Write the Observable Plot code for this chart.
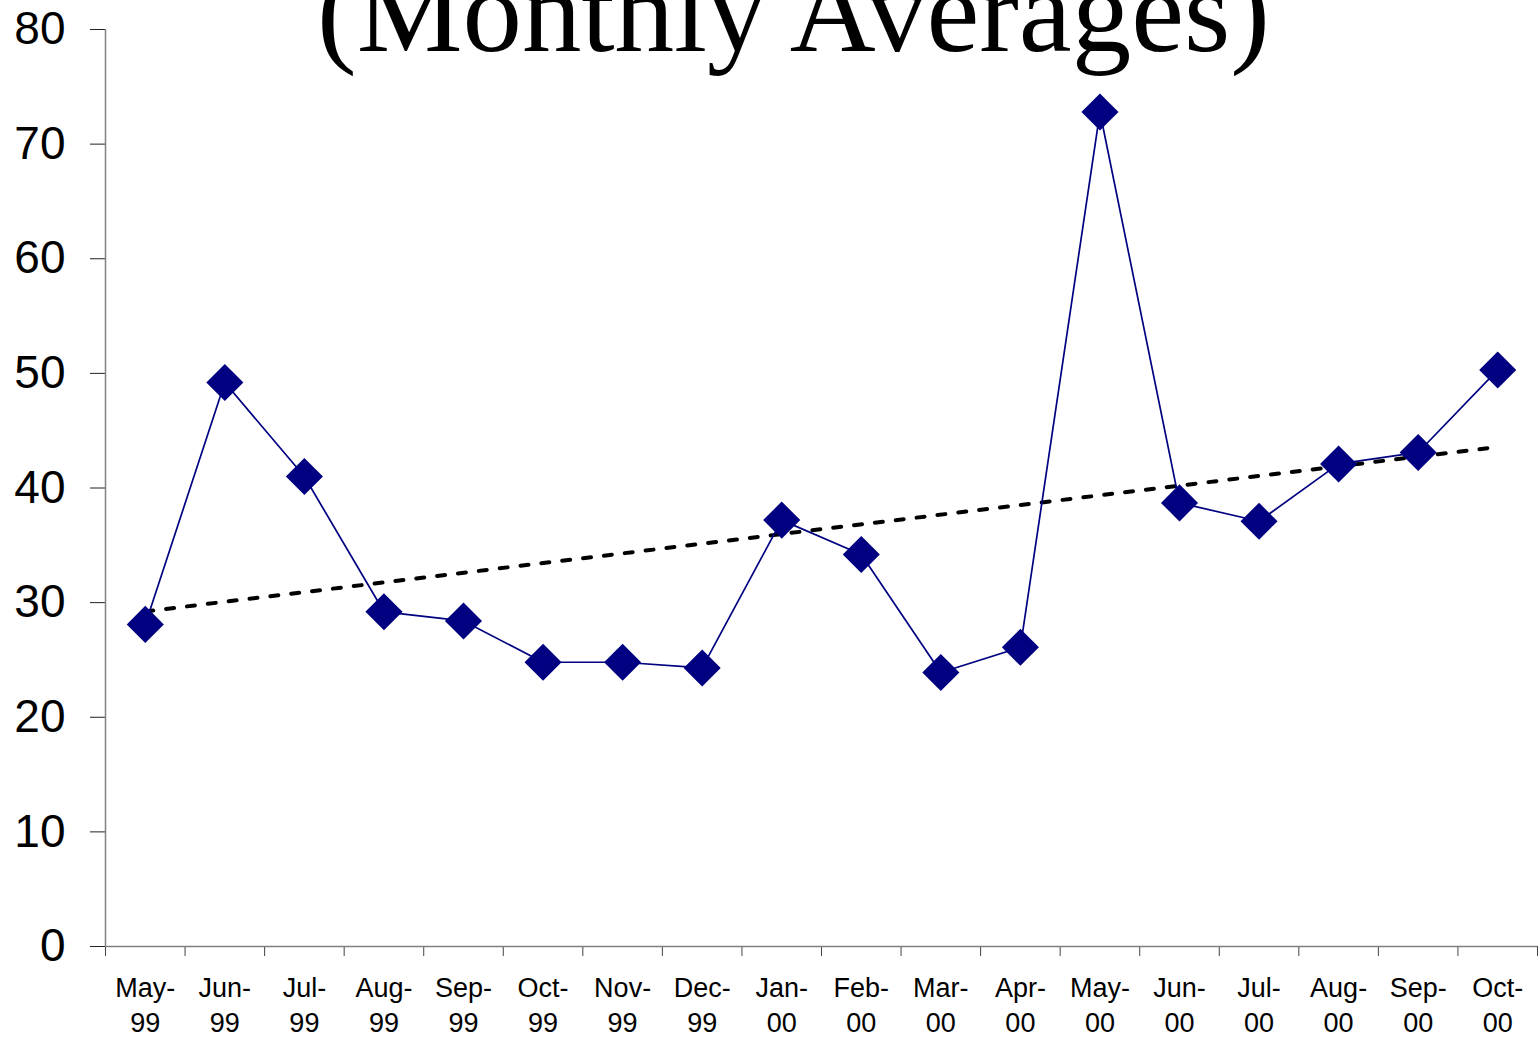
<!DOCTYPE html>
<html>
<head>
<meta charset="utf-8">
<script src="https://cdn.jsdelivr.net/npm/d3@7"></script>
<script src="https://cdn.jsdelivr.net/npm/@observablehq/plot@0.6"></script>
<style>
  html, body { margin: 0; padding: 0; background: #fff; overflow: hidden; }
  #wrap { position: relative; width: 1539px; height: 1038px; }
  #title {
    position: absolute; left: 0; width: 1587px; top: -48px;
    text-align: center; font-family: "Liberation Serif", "Times New Roman", serif;
    font-size: 119px; line-height: 119px; color: #000; white-space: nowrap;
    z-index: 2; pointer-events: none;
  }
</style>
</head>
<body>
<div id="wrap">
  <div id="title">(Monthly Averages)</div>
  <div id="chart"></div>
</div>
<script>
const months = ["May-\n99","Jun-\n99","Jul-\n99","Aug-\n99","Sep-\n99","Oct-\n99","Nov-\n99","Dec-\n99",
                "Jan-\n00","Feb-\n00","Mar-\n00","Apr-\n00","May-\n00","Jun-\n00","Jul-\n00","Aug-\n00","Sep-\n00","Oct-\n00"];
const values = [28.1, 49.2, 41.0, 29.2, 28.4, 24.8, 24.8, 24.3, 37.2, 34.2, 23.9, 26.1, 72.8, 38.7, 37.1, 42.1, 43.1, 50.3];
const yTicks = [0, 10, 20, 30, 40, 50, 60, 70, 80];

const data = months.map((m, i) => ({i, label: m, value: values[i]}));
const boundaries = d3.range(months.length + 1).map(i => i - 0.5);

const chart = Plot.plot({
  width: 1539,
  height: 1038,
  marginLeft: 105,
  marginRight: 2,
  marginTop: 29,
  marginBottom: 92,
  style: {fontFamily: "Arial, 'Liberation Sans', sans-serif", color: "#000", background: "#fff"},
  x: {type: "linear", domain: [-0.5, months.length - 0.5]},
  y: {domain: [0, 80]},
  marks: [
    Plot.axisY({ticks: yTicks, tickSize: 15, tickPadding: 25, fontSize: 46, stroke: "#222", label: null, tickFormat: d => d}),
    Plot.axisX({ticks: boundaries, tickSize: 10, tickFormat: () => "", stroke: "#444", label: null}),
    Plot.axisX({ticks: d3.range(months.length), tickSize: 0, tickPadding: 26, fontSize: 27, lineHeight: 1.28,
                tickFormat: i => months[i], label: null}),
    Plot.ruleX([-0.5], {stroke: "#808080", strokeWidth: 1.5}),
    Plot.ruleY([0], {stroke: "#808080", strokeWidth: 1.5}),
    Plot.linearRegressionY(data, {x: "i", y: "value", ci: 0, stroke: "#000", strokeWidth: 4, strokeDasharray: "8,13"}),
    Plot.line(data, {x: "i", y: "value", stroke: "#000080", strokeWidth: 1.7}),
    Plot.dot(data, {x: "i", y: "value", symbol: "diamond2", r: 16.7, fill: "#000080", stroke: "none"})
  ]
});
document.getElementById("chart").appendChild(chart);
</script>
</body>
</html>
